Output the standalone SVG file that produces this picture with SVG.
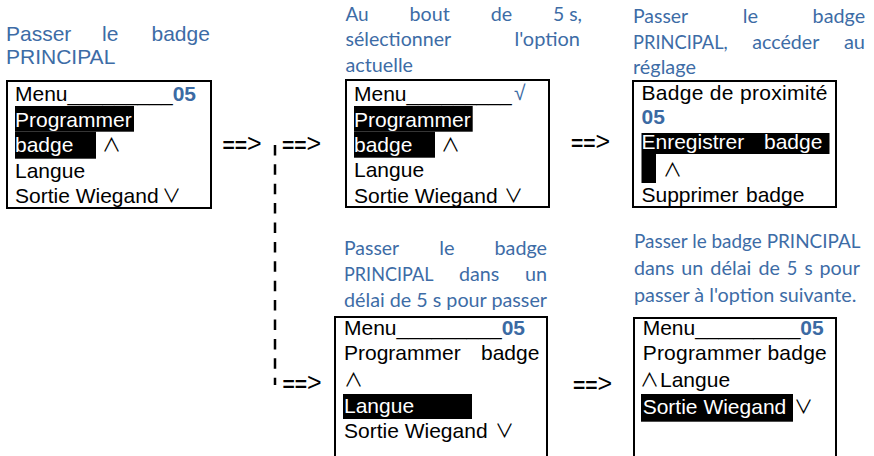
<svg xmlns="http://www.w3.org/2000/svg" width="874" height="456" viewBox="0 0 874 456">
<style>
.box{fill:#fff;stroke:#000;stroke-width:2}
.t{font-family:"Liberation Sans",Arial,sans-serif;font-size:21px;fill:#000}
.w{fill:#fff}
.hl{fill:#000}
.num{font-weight:bold;fill:#3b6aa3}
.cap{font-family:"Liberation Sans",Arial,sans-serif;font-size:21px;fill:#3d6ca6}
.cal{font-family:Lato,"Noto Sans",sans-serif;font-size:19px;fill:#3d6ca6}
.sym{font-family:"Noto Sans CJK SC","DejaVu Sans",sans-serif;font-size:19px;fill:#000}
.chk{font-family:"Liberation Sans","DejaVu Sans",sans-serif;font-size:21px;fill:#3b6aa3}
.arr{font-family:"Liberation Sans",Arial,sans-serif;font-size:21px;fill:#000}
.gt{font-size:25px}
.dash{fill:none;stroke:#000;stroke-width:2.5;stroke-dasharray:10.5 8.9}
</style>
<rect width="874" height="456" fill="#fff"/>

<g id="node1">
  <text class="cap" y="40.7"><tspan x="6">Passer</tspan><tspan x="102">le</tspan><tspan x="151.5">badge</tspan></text>
  <text class="cap" x="6" y="64.3">PRINCIPAL</text>
  <rect class="box" x="7" y="81" width="204" height="127"/>
  <rect class="hl" x="15" y="106" width="119" height="25.7"/>
  <rect class="hl" x="15" y="131.7" width="81" height="27"/>
  <text class="t" x="15" y="100.7">Menu_________<tspan class="num">05</tspan></text>
  <text class="t w" x="15" y="126.5">Programmer</text>
  <text class="t w" x="15" y="152">badge</text>
  <text class="sym" x="102" y="152">∧</text>
  <text class="t" x="15" y="177.5">Langue</text>
  <text class="t" x="15" y="203">Sortie Wiegand</text>
  <text class="sym" x="162" y="203">∨</text>
</g>

<g id="node2">
  <text class="cal" x="345.5" y="20.7" textLength="23.2" lengthAdjust="spacingAndGlyphs">Au</text>
  <text class="cal" x="409.6" y="20.7" textLength="40.2" lengthAdjust="spacingAndGlyphs">bout</text>
  <text class="cal" x="490.7" y="20.7" textLength="21.5" lengthAdjust="spacingAndGlyphs">de</text>
  <text class="cal" x="553.1" y="20.7" textLength="28.9" lengthAdjust="spacingAndGlyphs">5 s,</text>
  <text class="cal" x="345.5" y="46" textLength="105.6" lengthAdjust="spacingAndGlyphs">sélectionner</text>
  <text class="cal" x="514.5" y="46" textLength="65.5" lengthAdjust="spacingAndGlyphs">l'option</text>
  <text class="cal" x="345.5" y="71.7" textLength="67.5" lengthAdjust="spacingAndGlyphs">actuelle</text>
  <rect class="box" x="346" y="80" width="203" height="127"/>
  <rect class="hl" x="354" y="106" width="118.7" height="25.7"/>
  <rect class="hl" x="354" y="131.7" width="81" height="26"/>
  <text class="t" x="354" y="100.7">Menu_________</text>
  <text class="chk" x="514" y="100">√</text>
  <text class="t w" x="354" y="126.5">Programmer</text>
  <text class="t w" x="354" y="152">badge</text>
  <text class="sym" x="441" y="152">∧</text>
  <text class="t" x="354" y="177">Langue</text>
  <text class="t" x="354" y="202.7">Sortie Wiegand</text>
  <text class="sym" x="504" y="202.7">∨</text>
</g>

<g id="node3">
  <text class="cal" x="633" y="23.3" textLength="55.1" lengthAdjust="spacingAndGlyphs">Passer</text>
  <text class="cal" x="742.7" y="23.3" textLength="15.3" lengthAdjust="spacingAndGlyphs">le</text>
  <text class="cal" x="812.6" y="23.3" textLength="52.5" lengthAdjust="spacingAndGlyphs">badge</text>
  <text class="cal" x="633" y="49.3" textLength="94.7" lengthAdjust="spacingAndGlyphs">PRINCIPAL,</text>
  <text class="cal" x="752.3" y="49.3" textLength="67.1" lengthAdjust="spacingAndGlyphs">accéder</text>
  <text class="cal" x="843.9" y="49.3" textLength="21.1" lengthAdjust="spacingAndGlyphs">au</text>
  <text class="cal" x="633" y="74" textLength="62.9" lengthAdjust="spacingAndGlyphs">réglage</text>
  <rect class="box" x="633" y="81" width="203" height="126"/>
  <rect class="hl" x="641.5" y="133" width="188" height="21"/>
  <rect class="hl" x="641.5" y="154" width="14.5" height="29"/>
  <text class="t" x="641.5" y="100" textLength="186" lengthAdjust="spacing">Badge de proximité</text>
  <text class="t num" x="641.5" y="124">05</text>
  <text class="t w" x="641.5" y="149">Enregistrer</text>
  <text class="t w" x="764" y="149">badge</text>
  <text class="sym" x="663" y="176.7">∧</text>
  <text class="t" x="641.5" y="201.7">Supprimer<tspan x="746">badge</tspan></text>
</g>

<g id="node4">
  <text class="cal" x="344" y="255" textLength="55.1" lengthAdjust="spacingAndGlyphs">Passer</text>
  <text class="cal" x="439.2" y="255" textLength="15.3" lengthAdjust="spacingAndGlyphs">le</text>
  <text class="cal" x="494.5" y="255" textLength="52.5" lengthAdjust="spacingAndGlyphs">badge</text>
  <text class="cal" x="344" y="281" textLength="89.4" lengthAdjust="spacingAndGlyphs">PRINCIPAL</text>
  <text class="cal" x="459" y="281" textLength="40.3" lengthAdjust="spacingAndGlyphs">dans</text>
  <text class="cal" x="524.9" y="281" textLength="22.1" lengthAdjust="spacingAndGlyphs">un</text>
  <text class="cal" x="344" y="307.3" textLength="203" lengthAdjust="spacingAndGlyphs">délai de 5 s pour passer</text>
  <rect class="box" x="335" y="317" width="212" height="160"/>
  <rect class="hl" x="343" y="394" width="129" height="25"/>
  <text class="t" x="344" y="335">Menu_________<tspan class="num">05</tspan></text>
  <text class="t" x="344" y="360">Programmer<tspan x="481">badge</tspan></text>
  <text class="sym" x="344" y="387">∧</text>
  <text class="t w" x="344" y="413.3">Langue</text>
  <text class="t" x="344" y="438.3">Sortie Wiegand</text>
  <text class="sym" x="495" y="438.3">∨</text>
</g>

<g id="node5">
  <text class="cal" x="634" y="248.3" textLength="226.5" lengthAdjust="spacingAndGlyphs">Passer le badge PRINCIPAL</text>
  <text class="cal" x="634" y="275" textLength="40.3" lengthAdjust="spacingAndGlyphs">dans</text>
  <text class="cal" x="681.3" y="275" textLength="22" lengthAdjust="spacingAndGlyphs">un</text>
  <text class="cal" x="710.2" y="275" textLength="41.2" lengthAdjust="spacingAndGlyphs">délai</text>
  <text class="cal" x="758.4" y="275" textLength="21.5" lengthAdjust="spacingAndGlyphs">de</text>
  <text class="cal" x="786.8" y="275" textLength="10.6" lengthAdjust="spacingAndGlyphs">5</text>
  <text class="cal" x="804.4" y="275" textLength="8.2" lengthAdjust="spacingAndGlyphs">s</text>
  <text class="cal" x="819.5" y="275" textLength="40.4" lengthAdjust="spacingAndGlyphs">pour</text>
  <text class="cal" x="634" y="301.7" textLength="222.5" lengthAdjust="spacingAndGlyphs">passer à l'option suivante.</text>
  <rect class="box" x="634" y="318" width="202" height="160"/>
  <rect class="hl" x="641" y="394" width="152" height="27.7"/>
  <text class="t" x="642.7" y="335">Menu_________<tspan class="num">05</tspan></text>
  <text class="t" x="642.7" y="360" textLength="184" lengthAdjust="spacing">Programmer badge</text>
  <text class="sym" x="640" y="386.7">∧</text>
  <text class="t" x="660" y="386.7">Langue</text>
  <text class="t w" x="642.7" y="414">Sortie Wiegand</text>
  <text class="sym" x="794" y="414">∨</text>
</g>

<g id="connectors">
  <line class="dash" x1="275" y1="144.9" x2="275" y2="385"/>
  <text class="arr" x="222.5" y="152"><tspan font-weight="bold">==</tspan><tspan class="gt">&gt;</tspan></text>
  <text class="arr" x="282" y="152"><tspan font-weight="bold">==</tspan><tspan class="gt">&gt;</tspan></text>
  <text class="arr" x="571" y="150"><tspan font-weight="bold">==</tspan><tspan class="gt">&gt;</tspan></text>
  <text class="arr" x="282.5" y="391"><tspan font-weight="bold">==</tspan><tspan class="gt">&gt;</tspan></text>
  <text class="arr" x="573" y="392"><tspan font-weight="bold">==</tspan><tspan class="gt">&gt;</tspan></text>
</g>
</svg>
